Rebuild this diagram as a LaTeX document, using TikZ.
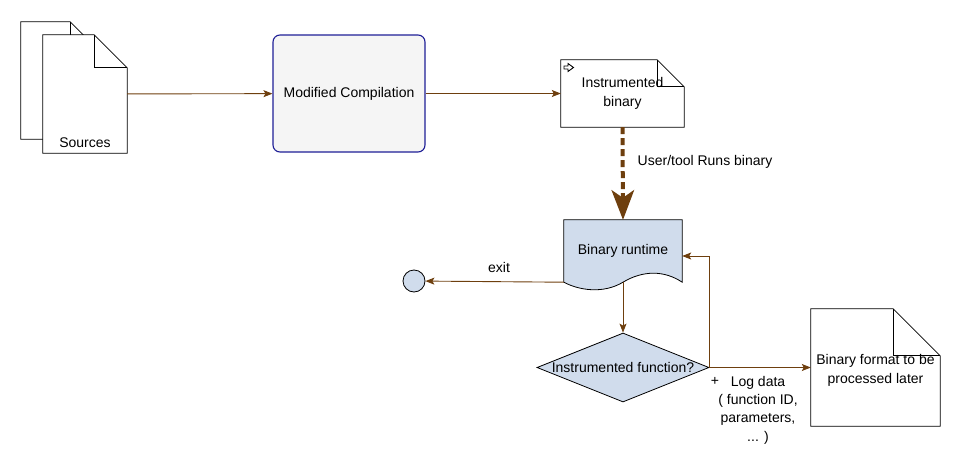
\documentclass[tikz,border=0pt]{standalone}
\usepackage{fontspec}
\setmainfont{Liberation Sans}
\usetikzlibrary{arrows.meta,shapes.geometric}

\definecolor{flowbrown}{HTML}{6E3F0E}
\definecolor{boxblue}{HTML}{D0DCEC}
\definecolor{modborder}{HTML}{1E1E96}
\definecolor{modfill}{HTML}{F5F5F5}

\tikzset{
    docbox/.style={rectangle, draw=none, inner sep=0pt, align=center},
    flow/.style={draw=flowbrown, line width=0.9pt, -{Stealth[length=9pt,width=7pt,inset=2pt]}},
    outline/.style={draw=black, line width=0.8pt},
}

\newcommand{\foldeddoc}[2]{%
    \draw[outline, fill=white] (#1.south west) -- (#1.north west) --
    ([xshift=-#2]#1.north east) -- ([yshift=-#2]#1.north east) --
    (#1.south east) -- cycle;
    \draw[outline] ([xshift=-#2]#1.north east) |- ([yshift=-#2]#1.north east);
}

\begin{document}
\begin{tikzpicture}[x=1pt, y=-1pt, font=\fontsize{14}{19}\selectfont]
    \useasboundingbox (0,0) rectangle (962,466);

    \node[docbox, minimum width=83, minimum height=117] (srcback) at (62.5,80.5) {};
    \node[docbox, minimum width=84, minimum height=118] (src) at (85,94) {};
    \foldeddoc{srcback}{34pt}
    \foldeddoc{src}{33pt}
    \node (srctext) at ([yshift=11pt]src.south) {Sources};

    \node[draw=modborder, line width=1.1pt, fill=modfill, rounded corners=7pt,
        minimum width=152, minimum height=117] (modcomp) at (349,93.5) {Modified Compilation};

    \node[docbox, minimum width=123, minimum height=67] (instr) at (622.5,93.5) {};
    \foldeddoc{instr}{27pt}
    \node[align=center] (instrtext) at (instr) {Instrumented\\binary};
    \draw[line width=0.9pt] (564,66) -- (568,66) -- (568,63.5) -- (573.5,67.5) --
        (568,71.5) -- (568,69) -- (564,69) -- cycle;

    \node[inner sep=0pt, minimum width=118, minimum height=62] (runtime) at (623,251) {Binary runtime};
    \draw[outline, fill=boxblue] (runtime.south west) -- (runtime.north west) --
        (runtime.north east) -- (runtime.south east)
        .. controls +(-18,-12) and +(20,-12) .. (runtime.south)
        .. controls +(-20,12) and +(15,8) .. (runtime.south west) -- cycle;
    \node (runtimetext) at (runtime) {Binary runtime};

    \node[circle, outline, fill=boxblue, minimum size=22, inner sep=0pt] (exit) at (414,281) {};

    \node[diamond, outline, fill=boxblue, inner sep=0pt, aspect=2.5,
        minimum width=172, minimum height=69] (decide) at (623,367.5) {Instrumented function?};

    \node[docbox, minimum width=129, minimum height=117] (logfile) at (875.5,367.5) {};
    \foldeddoc{logfile}{47pt}
    \node[align=center] (logtext) at ([yshift=-3pt]logfile.center) {Binary format to be\\processed later};

    \draw[flow] (src) -- (modcomp);
    \draw[flow] (modcomp) -- (instr);
    \draw[draw=flowbrown, line width=4pt, dash pattern=on 7pt off 4pt,
        -{Stealth[length=30pt,width=23pt,inset=8pt,line width=0pt]}] (instr.south) -- (runtime.north);
    \draw[flow] (runtime.south west) -- (exit);
    \draw[flow] (runtime.south) -- (decide.north);
    \draw[flow] (decide.east) |- ([yshift=-5pt]runtime.east);
    \draw[flow] (decide.east) -- (logfile);

    \node (runlabel) at (705,162) {User/tool Runs binary};
    \node (exitlabel) at (499,267) {exit};
    \node (pluslabel) at (715,381) {+};
    \node[align=center, font=\fontsize{14}{18.3}\selectfont] (loglabel) at (758,410) {Log data\\( function ID,\\parameters,\\... )};
\end{tikzpicture}
\end{document}
